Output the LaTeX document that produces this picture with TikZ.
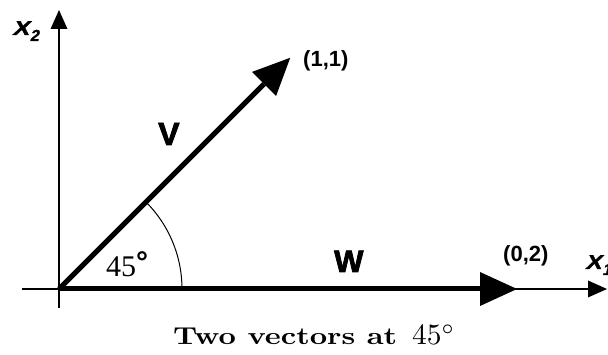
\documentclass[tikz,border=0pt]{standalone}
\usepackage{fontspec}
\newfontfamily\lsans{Liberation Sans}
\newfontfamily\heavy{Liberation Sans}[BoldFeatures={FakeBold=2.5}]
\newfontfamily\heavyit{Liberation Sans}[BoldFeatures={FakeBold=1.5,FakeSlant=0.22}]
\newfontfamily\lserif{Liberation Serif}
\usetikzlibrary{arrows.meta,calc}
\begin{document}
\begin{tikzpicture}[x=1pt,y=1pt,
  axis/.style={line width=1.8pt,-{Triangle[length=19pt,width=17pt,line width=0pt]}},
  vec/.style={line width=5pt,-{Triangle[length=37pt,width=34pt,line width=0pt]}},
  lab/.style={inner sep=0pt,anchor=base west},
  axlab/.style={lab,font={\heavyit\bfseries\fontsize{20}{22}\selectfont}},
  sublab/.style={font={\heavyit\bfseries\fontsize{16}{16}\selectfont}},
  ptlab/.style={lab,font={\lsans\bfseries\fontsize{22}{24}\selectfont}},
]
\useasboundingbox (0,0) rectangle (608,355);
\coordinate (O) at (59,66);
\coordinate (x1s) at (22,66);
\coordinate (x1e) at (607,66);
\coordinate (x2s) at (59,47);
\coordinate (x2e) at (59,345);
\coordinate (V) at ($(O)+(45:327)$);
\coordinate (W) at (517,66);
\coordinate (A0) at ($(O)+(123,0)$);
\draw[axis] (x1s) -- (x1e);
\draw[axis] (x2s) -- (x2e);
\draw[line width=1pt] (A0) arc[start angle=0,end angle=45,radius=123];
\draw[vec] (O) -- (V);
\draw[vec] (O) -- (W);
\node[axlab] (lx2) at (12,320) {\scalebox{1.25}[1]{X}\kern1pt\raisebox{-6pt}{\heavyit\bfseries\fontsize{16}{16}\selectfont 2}};
\node[axlab] (lx1) at (585,86) {\scalebox{1.2}[1]{X}\kern1pt\raisebox{-6pt}{\heavyit\bfseries\fontsize{16}{16}\selectfont 1}};
\node[ptlab] (l11) at (303,288) {(1,1)};
\node[ptlab] (l02) at (503,93) {(0,2)};
\node[lab,font={\heavy\bfseries\fontsize{32}{34}\selectfont}] (lv) at (158,210) {V};
\node[lab,font={\heavy\bfseries\fontsize{31}{33}\selectfont}] (lw) at (334,83) {W};
\node[lab] (l45) at (106,78) {\lserif\fontsize{30}{32}\selectfont 45\raisebox{4pt}{\lsans\bfseries °}};
\node[anchor=base west,inner sep=0pt] (cap) at (173,10) {\resizebox{224pt}{16.5pt}{\bfseries Two vectors at}\hspace{15pt}\resizebox{43pt}{!}{$45^\circ$}};
\end{tikzpicture}
\end{document}
